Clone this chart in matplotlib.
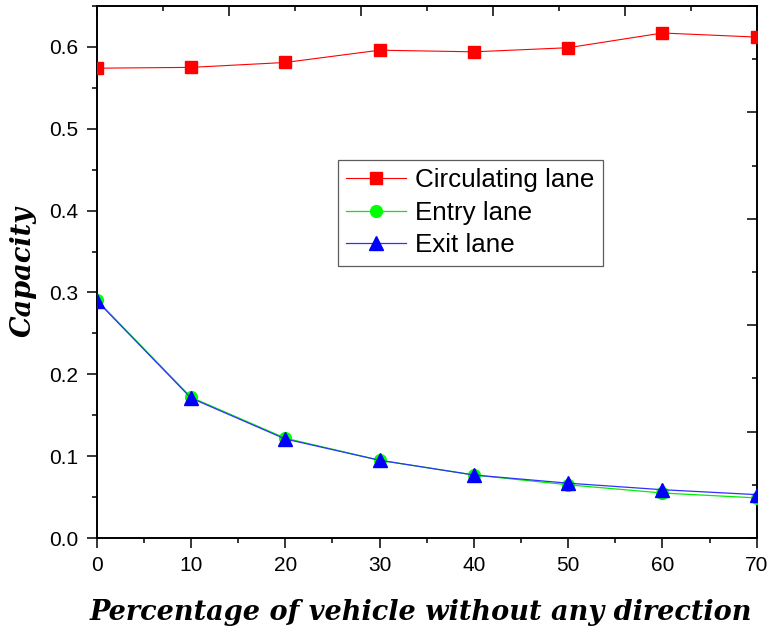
import numpy as np
import matplotlib

matplotlib.use("Agg")
import matplotlib.pyplot as plt
from matplotlib.ticker import MultipleLocator

# ---- data ---------------------------------------------------------------
pct = [0, 10, 20, 30, 40, 50, 60, 70]
circulating = [0.574, 0.575, 0.581, 0.596, 0.594, 0.599, 0.617, 0.612]
entry = [0.291, 0.172, 0.122, 0.095, 0.077, 0.065, 0.055, 0.049]
exit_lane = [0.290, 0.171, 0.121, 0.095, 0.077, 0.067, 0.059, 0.053]

plt.rcParams["font.family"] = ["Liberation Sans", "DejaVu Sans"]
label_font = dict(family=["DejaVu Serif"], fontsize=19.5,
                  fontweight="bold", fontstyle="italic")

fig = plt.figure(figsize=(7.71, 6.37), dpi=100)
rect = [0.1254, 0.1554, 0.856, 0.8352]
ax = fig.add_axes(rect)

ax.plot(pct, circulating, color="#ff0000", lw=0.8, marker="s", ms=8,
        mec="#ff0000", mfc="#ff0000", label="Circulating lane", zorder=3)
ax.plot(pct, entry, color="#00ee00", lw=0.9, marker="o", ms=8.5,
        mec="#00ff00", mfc="#00ff00", label="Entry lane", zorder=3)
ax.plot(pct, exit_lane, color="#3030ff", lw=0.9, marker="^", ms=9.5,
        mec="#0000ff", mfc="#0000ff", label="Exit lane", zorder=4)

ax.set_xlim(0, 70)
ax.set_ylim(0, 0.65)
ax.xaxis.set_major_locator(MultipleLocator(10))
ax.xaxis.set_minor_locator(MultipleLocator(5))
ax.yaxis.set_major_locator(MultipleLocator(0.1))
ax.yaxis.set_minor_locator(MultipleLocator(0.05))
ax.yaxis.set_major_formatter(matplotlib.ticker.FormatStrFormatter("%.1f"))
ax.tick_params(which="major", direction="out", length=7.2, width=1.1,
               labelsize=15, pad=6)
ax.tick_params(which="minor", direction="out", length=3.6, width=1.1)
for s in ax.spines.values():
    s.set_linewidth(1.4)

ax.set_xlabel("Percentage of vehicle without any direction", labelpad=17,
              **label_font)
ax.xaxis.label.set_x(0.491)
ax.set_ylabel("Capacity", labelpad=9, **label_font)

leg = ax.legend(loc="upper left", bbox_to_anchor=(0.365, 0.711), fontsize=18.7,
                frameon=True, fancybox=False, edgecolor="#333333",
                handlelength=2.3, handletextpad=0.35, borderpad=0.33,
                labelspacing=0.33, borderaxespad=0)
leg.get_frame().set_linewidth(0.9)

# top / right axes carry their own ten-interval tick scale
ax2 = fig.add_axes(rect, frameon=False)
ax2.patch.set_visible(False)
ax2.set_xlim(0, 10)
ax2.set_ylim(0, 10)
ax2.xaxis.tick_top()
ax2.yaxis.tick_right()
ax2.xaxis.set_major_locator(MultipleLocator(2))
ax2.xaxis.set_minor_locator(MultipleLocator(1))
ax2.yaxis.set_major_locator(MultipleLocator(2))
ax2.yaxis.set_minor_locator(MultipleLocator(1))
ax2.tick_params(which="major", direction="in", length=7.2, width=1.1,
                labeltop=False, labelright=False)
ax2.tick_params(which="minor", direction="in", length=3.6, width=1.1)

fig.savefig("out.png", dpi=100)
